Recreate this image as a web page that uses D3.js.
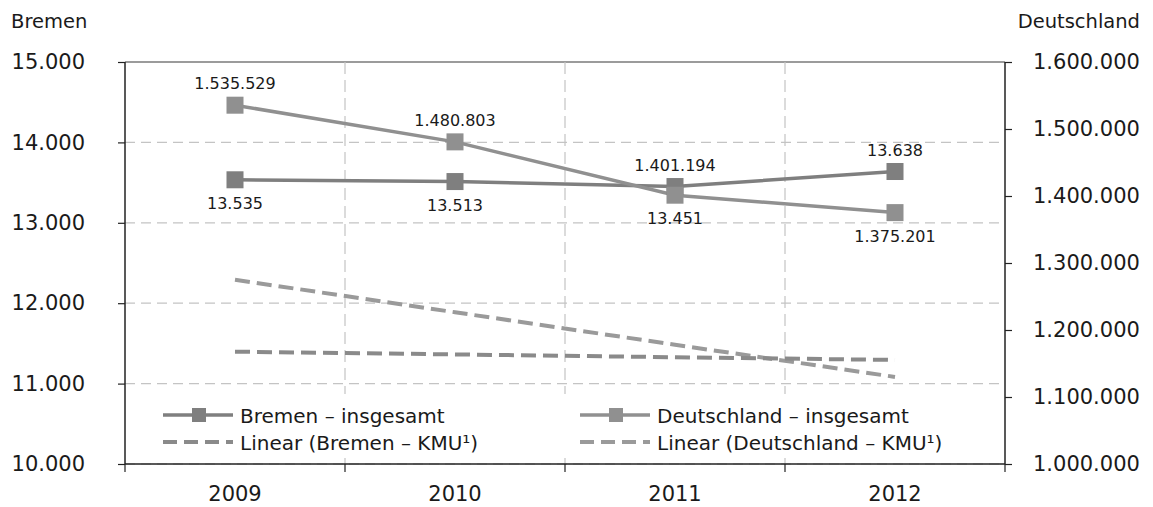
<!DOCTYPE html>
<html>
<head>
<meta charset="utf-8">
<script src="https://cdn.jsdelivr.net/npm/d3@7"></script>
<style>
  html, body { margin: 0; padding: 0; background: #fff; }
  svg text { font-family: "DejaVu Sans", sans-serif; fill: #1a1a1a; }
</style>
</head>
<body>
<svg id="chart" width="1153" height="507"></svg>
<script>
// ---------------------------------------------------------------------------
// Data
// ---------------------------------------------------------------------------
const years = ['2009', '2010', '2011', '2012'];
const bremenTotal = [13535, 13513, 13451, 13638];
const deutschlandTotal = [1535529, 1480803, 1401194, 1375201];
const bremenKmuTrend = [11397, 11363, 11328, 11294];
const deutschlandKmuTrend = [1275000, 1226500, 1178000, 1130000];
const bremenTicks = [10000, 11000, 12000, 13000, 14000, 15000];
const deutschlandTicks = [1000000, 1100000, 1200000, 1300000, 1400000, 1500000, 1600000];
// where each point label sits relative to the pair of markers of that year
const bremenLabelSide = ['below', 'below', 'below', 'above'];
const deutschlandLabelSide = ['above', 'above', 'above', 'below'];

const legendItems = [
  { label: 'Bremen – insgesamt', kind: 'line', color: '#7f7f7f' },
  { label: 'Deutschland – insgesamt', kind: 'line', color: '#909090' },
  { label: 'Linear (Bremen – KMU¹)', kind: 'dash', color: '#8a8a8a' },
  { label: 'Linear (Deutschland – KMU¹)', kind: 'dash', color: '#9a9a9a' },
];

// ---------------------------------------------------------------------------
// Layout
// ---------------------------------------------------------------------------
const pLeft = 125, pRight = 1005, pTop = 62, pBottom = 464;
const de = d3.formatLocale({ decimal: ',', thousands: '.', grouping: [3], currency: ['', '€'] });
const fmt = de.format(',d');

const x = d3.scaleBand().domain(years).range([pLeft, pRight]).padding(0);
const yL = d3.scaleLinear().domain([10000, 15000]).range([pBottom, pTop]);
const yR = d3.scaleLinear().domain([1000000, 1600000]).range([pBottom, pTop]);
const cx = d => x(d) + x.bandwidth() / 2;

const svg = d3.select('#chart');

// grid
const grid = svg.append('g');
grid.selectAll('line.h').data(bremenTicks.slice(0, -1)).join('line')
  .attr('x1', pLeft).attr('x2', pRight)
  .attr('y1', d => yL(d)).attr('y2', d => yL(d))
  .attr('stroke', '#c4c4c4').attr('stroke-width', 1.2)
  .attr('stroke-dasharray', '10,6');
grid.append('line')
  .attr('x1', pLeft).attr('x2', pRight).attr('y1', yL(15000)).attr('y2', yL(15000))
  .attr('stroke', '#7a7a7a').attr('stroke-width', 1.5);
grid.selectAll('line.v').data(years.slice(1)).join('line')
  .attr('x1', d => x(d)).attr('x2', d => x(d))
  .attr('y1', pTop).attr('y2', pBottom)
  .attr('stroke', '#c4c4c4').attr('stroke-width', 1.2)
  .attr('stroke-dasharray', '12,6');

// axes
function styleAxis(sel) {
  sel.select('.domain').remove();
  sel.selectAll('.tick line').attr('stroke', '#222').attr('stroke-width', 1.2);
  sel.selectAll('.tick text').style('font-family', '"DejaVu Sans", sans-serif').attr('fill', '#1a1a1a');
}
svg.append('g').attr('transform', `translate(${pLeft},0)`)
  .call(d3.axisLeft(yL).tickValues(bremenTicks).tickFormat(fmt).tickSize(7).tickPadding(33))
  .call(styleAxis)
  .selectAll('.tick text').style('font-size', '21px');
svg.append('g').attr('transform', `translate(${pRight},0)`)
  .call(d3.axisRight(yR).tickValues(deutschlandTicks).tickFormat(fmt).tickSize(7).tickPadding(21))
  .call(styleAxis)
  .selectAll('.tick text').style('font-size', '21px');
const xAx = svg.append('g').attr('transform', `translate(0,${pBottom})`)
  .call(d3.axisBottom(x).tickSize(0).tickPadding(22))
  .call(styleAxis);
xAx.selectAll('.tick text').style('font-size', '21px');
svg.append('g').selectAll('line').data(years.concat(['end'])).join('line')
  .attr('x1', (d, i) => i < years.length ? x(d) : pRight)
  .attr('x2', (d, i) => i < years.length ? x(d) : pRight)
  .attr('y1', pBottom).attr('y2', pBottom + 8)
  .attr('stroke', '#222').attr('stroke-width', 1.2);

svg.append('line').attr('x1', pLeft).attr('x2', pLeft).attr('y1', pTop).attr('y2', pBottom)
  .attr('stroke', '#222').attr('stroke-width', 1.5);
svg.append('line').attr('x1', pRight).attr('x2', pRight).attr('y1', pTop).attr('y2', pBottom)
  .attr('stroke', '#222').attr('stroke-width', 1.5);
svg.append('line').attr('x1', pLeft).attr('x2', pRight).attr('y1', pBottom).attr('y2', pBottom)
  .attr('stroke', '#222').attr('stroke-width', 1.5);

// axis titles
svg.append('text').attr('x', 11).attr('y', 28).style('font-size', '19.5px').text('Bremen');
svg.append('text').attr('x', 1140).attr('y', 28).attr('text-anchor', 'end')
  .style('font-size', '19.5px').text('Deutschland');

// trend lines
const plot = svg.append('g');
const lineL = d3.line().x((d, i) => cx(years[i])).y(d => yL(d));
const lineR = d3.line().x((d, i) => cx(years[i])).y(d => yR(d));
plot.append('path').datum(deutschlandKmuTrend).attr('d', lineR)
  .attr('fill', 'none').attr('stroke', '#9a9a9a').attr('stroke-width', 4)
  .attr('stroke-dasharray', '15,7');
plot.append('path').datum(bremenKmuTrend).attr('d', lineL)
  .attr('fill', 'none').attr('stroke', '#8a8a8a').attr('stroke-width', 4)
  .attr('stroke-dasharray', '15,7');

// totals
plot.append('path').datum(bremenTotal).attr('d', lineL)
  .attr('fill', 'none').attr('stroke', '#7f7f7f').attr('stroke-width', 3.5);
plot.append('path').datum(deutschlandTotal).attr('d', lineR)
  .attr('fill', 'none').attr('stroke', '#909090').attr('stroke-width', 3.5);
const ms = 17;
plot.selectAll('rect.b').data(bremenTotal).join('rect')
  .attr('x', (d, i) => cx(years[i]) - ms / 2).attr('y', d => yL(d) - ms / 2)
  .attr('width', ms).attr('height', ms).attr('fill', '#7f7f7f');
plot.selectAll('rect.d').data(deutschlandTotal).join('rect')
  .attr('x', (d, i) => cx(years[i]) - ms / 2).attr('y', d => yR(d) - ms / 2)
  .attr('width', ms).attr('height', ms).attr('fill', '#909090');

// point labels
function labelY(i, side) {
  const a = yL(bremenTotal[i]), b = yR(deutschlandTotal[i]);
  return side === 'above' ? Math.min(a, b) - 16 : Math.max(a, b) + 29;
}
const labels = svg.append('g').style('font-size', '16px').attr('text-anchor', 'middle');
labels.selectAll('text.b').data(bremenTotal).join('text')
  .attr('x', (d, i) => cx(years[i])).attr('y', (d, i) => labelY(i, bremenLabelSide[i]))
  .text(d => fmt(d));
labels.selectAll('text.d').data(deutschlandTotal).join('text')
  .attr('x', (d, i) => cx(years[i])).attr('y', (d, i) => labelY(i, deutschlandLabelSide[i]))
  .text(d => fmt(d));

// legend
const lg = svg.append('g');
lg.append('rect').attr('x', 150).attr('y', 394).attr('width', 845).attr('height', 64).attr('fill', '#fff');
const colX = [163, 580], rowY = [415, 442];
legendItems.forEach((it, i) => {
  const gx = colX[i % 2], gy = rowY[Math.floor(i / 2)];
  const g = lg.append('g').attr('transform', `translate(${gx},${gy})`);
  if (it.kind === 'line') {
    g.append('line').attr('x1', 0).attr('x2', 70).attr('stroke', it.color).attr('stroke-width', 3.5);
    g.append('rect').attr('x', 29).attr('y', -7).attr('width', 14).attr('height', 14).attr('fill', it.color);
  } else {
    g.append('line').attr('x1', 0).attr('x2', 70).attr('stroke', it.color).attr('stroke-width', 4)
      .attr('stroke-dasharray', '14,7');
  }
  g.append('text').attr('x', 77).attr('y', 7.5).style('font-size', '20px').text(it.label);
});
</script>
</body>
</html>
